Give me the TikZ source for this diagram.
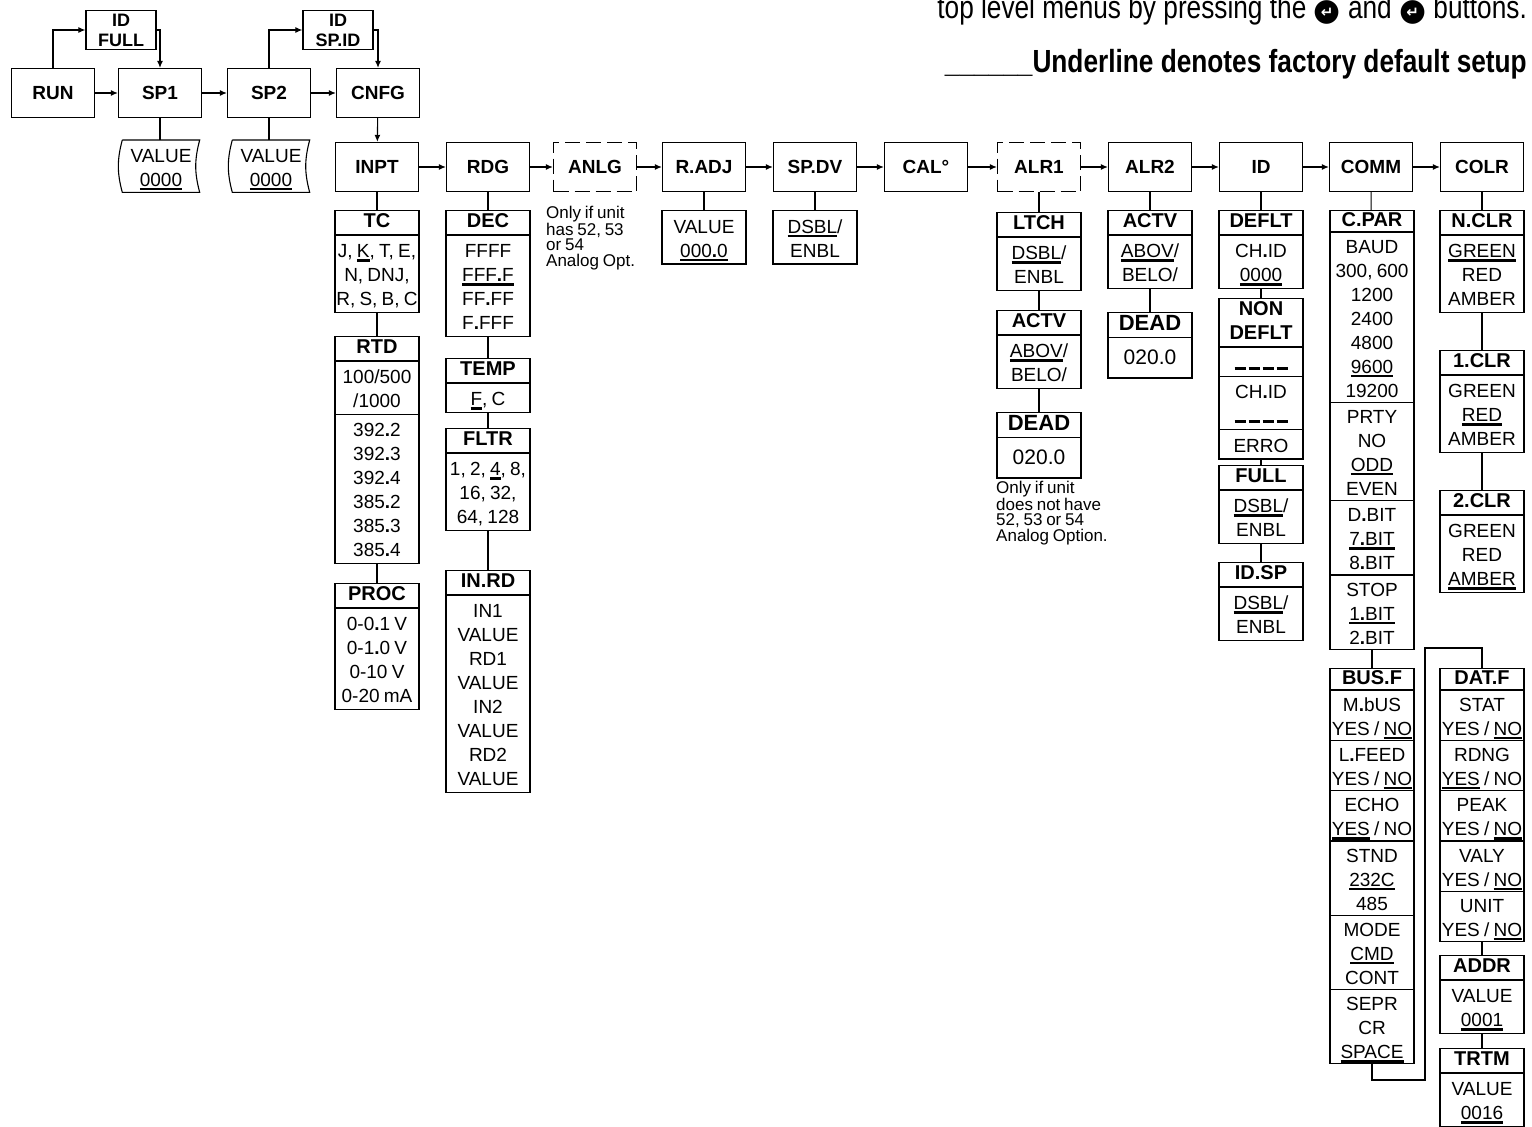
\documentclass[tikz,border=0pt]{standalone}
\usepackage{fontspec}
\setmainfont{Liberation Sans}[WordSpace=0.8]
\newfontfamily\narrowfont{Liberation Sans}[FakeStretch=0.82]
\newfontfamily\symbolfont{DejaVu Sans}
\usetikzlibrary{shapes.multipart,arrows.meta,positioning}
\setlength{\parindent}{0pt}
\setlength{\parskip}{0pt}
\newcommand{\menufont}{\fontsize{19}{21}\selectfont\bfseries}
\newcommand{\pairfont}{\fontsize{18}{20}\selectfont\bfseries}
\newcommand{\headfont}{\fontsize{20}{22}\selectfont\bfseries}
\newcommand{\itemfont}{\fontsize{19}{24}\selectfont}
\newcommand{\notefont}{\fontsize{17}{15.5}\selectfont}
\newcommand{\keyfont}{\fontsize{32}{34}\selectfont\narrowfont}
\newcommand{\rowstrut}{\rule[-4pt]{0pt}{24pt}}
\newcommand{\headstrut}{\rule[-4.5pt]{0pt}{19pt}}
\newcommand{\head}[1]{{\headfont\headstrut#1\headstrut}}
\newcommand{\rows}[1]{\rowstrut#1\rowstrut}
\newcommand{\dflt}[1]{\leavevmode\setbox0=\hbox{#1}\rlap{\rule[-4pt]{\wd0}{2.4pt}}\box0\relax}
\newcommand{\decpt}{{\bfseries.}}
\newcommand{\blankrow}{\rule{11pt}{2.5pt}\hspace{3pt}\rule{11pt}{2.5pt}\hspace{3pt}%
  \rule{11pt}{2.5pt}\hspace{3pt}\rule{11pt}{2.5pt}}
\newcommand{\tallrow}[1]{\raisebox{0pt}[24pt][11pt]{\fontsize{21}{24}\selectfont#1}}
\newcommand{\keyicon}{{\symbolfont\fontsize{31}{31}\selectfont\setbox2=\hbox{●}%
  \rlap{\raisebox{-2pt}{●}}\hbox to\wd2{\hss\raisebox{1pt}{\textcolor{white}{\fontsize{15}{15}\selectfont\bfseries ↵}}\hss}}}
\newcommand{\scrollframe}[1]{%
  \draw[line width=1.1pt] (#1.north west) -- (#1.north east) to[bend right=15]
    (#1.south east) -- (#1.south west) to[bend left=15] (#1.north west);
}
\tikzset{
  menubox/.style={draw, line width=1.3pt, minimum width=83pt, minimum height=49pt,
    inner sep=0pt, font=\menufont},
  optbox/.style={menubox, dash pattern=on 15pt off 6pt},
  pairbox/.style={draw, line width=1.3pt, minimum width=70pt, minimum height=39pt,
    inner sep=0pt, align=center, font=\pairfont},
  listbox/.style={draw, line width=1.3pt, rectangle split, rectangle split parts=#1,
    text width=92pt, inner xsep=-4pt, inner ysep=2pt, align=flush center,
    anchor=north, font=\itemfont},
  densebox/.style={listbox=#1, inner ysep=0.5pt},
  valuebox/.style={text width=85pt, inner xsep=-4pt, inner ysep=2pt, align=flush center,
    anchor=north, font=\itemfont},
  notetext/.style={anchor=north west, align=left, inner sep=0pt, font=\notefont},
  flowarrow/.style={line width=1.1pt, -{Latex[length=7pt,width=6pt]}},
  tieline/.style={line width=1.1pt},
}
\begin{document}
\begin{tikzpicture}[x=1pt,y=-1pt]
  \useasboundingbox (0,0) rectangle (1532,1127);

  % top level menus
  \node[menubox] (run) at (53,93) {RUN};
  \node[menubox] (sp1) at (160,93) {SP1};
  \node[menubox] (sp2) at (269,93) {SP2};
  \node[menubox] (cnfg) at (378,93) {CNFG};
  \node[pairbox] (idfull) at (121,30) {ID\\FULL};
  \node[pairbox] (idspid) at (338,30) {ID\\SP.ID};
  \node[valuebox] (sp1val) at (161,140) {\rows{VALUE\\\dflt{0000}}};
  \node[valuebox] (sp2val) at (271,140) {\rows{VALUE\\\dflt{0000}}};
  \scrollframe{sp1val}
  \scrollframe{sp2val}

  \draw[flowarrow] (run) -- (sp1);
  \draw[flowarrow] (sp1) -- (sp2);
  \draw[flowarrow] (sp2) -- (cnfg);
  \draw[flowarrow] (run.north) |- (idfull.west);
  \draw[flowarrow] (idfull.east) -| (sp1.north);
  \draw[flowarrow] (sp2.north) |- (idspid.west);
  \draw[flowarrow] (idspid.east) -| (cnfg.north);
  \draw[tieline] (sp1.south) -- (sp1.south |- sp1val.north);
  \draw[tieline] (sp2.south) -- (sp2.south |- sp2val.north);

  % configuration menus
  \node[menubox] (inpt) at (377,167) {INPT};
  \node[menubox] (rdg) at (488,167) {RDG};
  \node[optbox] (anlg) at (595,167) {ANLG};
  \node[menubox] (radj) at (704,167) {R.ADJ};
  \node[menubox] (spdv) at (815,167) {SP.DV};
  \node[menubox] (cal) at (926,167) {CAL°};
  \node[optbox] (alr1) at (1039,167) {ALR1};
  \node[menubox] (alr2) at (1150,167) {ALR2};
  \node[menubox] (id) at (1261,167) {ID};
  \node[menubox] (comm) at (1371,167) {COMM};
  \node[menubox] (colr) at (1482,167) {COLR};

  \draw[flowarrow] (cnfg) -- (inpt);
  \foreach \a/\b in {inpt/rdg,rdg/anlg,anlg/radj,radj/spdv,spdv/cal,cal/alr1,
      alr1/alr2,alr2/id,id/comm,comm/colr}
    \draw[flowarrow] (\a) -- (\b);

  % INPT
  \node[listbox=2] (tc) at (377,210) {\head{TC}\nodepart{two}%
    \rows{J, \dflt{K}, T, E,\\N, DNJ,\\R, S, B, C}};
  \node[listbox=3] (rtd) at (377,336) {\head{RTD}\nodepart{two}\rows{100/500\\/1000}%
    \nodepart{three}\rows{392\decpt2\\392\decpt3\\392\decpt4\\385\decpt2\\385\decpt3\\385\decpt4}};
  \node[listbox=2] (proc) at (377,583) {\head{PROC}\nodepart{two}%
    \rows{0-0\decpt1 V\\0-1\decpt0 V\\0-10 V\\0-20 mA}};
  \draw[tieline] (inpt) -- (tc);
  \draw[tieline] (tc) -- (rtd);
  \draw[tieline] (rtd) -- (proc);

  % RDG
  \node[listbox=2] (dec) at (488,210) {\head{DEC}\nodepart{two}%
    \rows{FFFF\\\dflt{FFF\decpt F}\\FF\decpt FF\\F\decpt FFF}};
  \node[listbox=2] (temp) at (488,358) {\head{TEMP}\nodepart{two}\rows{\dflt{F}, C}};
  \node[listbox=2] (fltr) at (488,428) {\head{FLTR}\nodepart{two}%
    \rows{1, 2, \dflt{4}, 8,\\16, 32,\\64, 128}};
  \node[listbox=2] (inrd) at (488,570) {\head{IN.RD}\nodepart{two}%
    \rows{IN1\\VALUE\\RD1\\VALUE\\IN2\\VALUE\\RD2\\VALUE}};
  \draw[tieline] (rdg) -- (dec);
  \draw[tieline] (dec) -- (temp);
  \draw[tieline] (temp) -- (fltr);
  \draw[tieline] (fltr) -- (inrd);

  % ANLG, R.ADJ, SP.DV
  \node[notetext] (anlgnote) at (546,206) {Only if unit\\has 52, 53\\or 54\\Analog Opt.};
  \node[listbox=1] (radjval) at (704,210) {\rows{VALUE\\\dflt{000\decpt0}}};
  \node[listbox=1] (spdvval) at (815,210) {\rows{\dflt{DSBL}/\\ENBL}};
  \draw[tieline] (radj) -- (radjval);
  \draw[tieline] (spdv) -- (spdvval);

  % ALR1
  \node[listbox=2] (ltch) at (1039,212) {\head{LTCH}\nodepart{two}\rows{\dflt{DSBL}/\\ENBL}};
  \node[listbox=2] (actv1) at (1039,310) {\head{ACTV}\nodepart{two}\rows{\dflt{ABOV}/\\BELO/}};
  \node[listbox=2] (dead1) at (1039,412) {\head{\fontsize{22}{22}\selectfont DEAD}%
    \nodepart{two}\tallrow{020.0}};
  \node[notetext] (alr1note) at (996,481)
    {Only if unit\\does not have\\52, 53 or 54\\Analog Option.};
  \draw[tieline] (alr1) -- (ltch);
  \draw[tieline] (ltch) -- (actv1);
  \draw[tieline] (actv1) -- (dead1);

  % ALR2
  \node[listbox=2] (actv2) at (1150,210) {\head{ACTV}\nodepart{two}\rows{\dflt{ABOV}/\\BELO/}};
  \node[listbox=2] (dead2) at (1150,312) {\head{\fontsize{22}{22}\selectfont DEAD}%
    \nodepart{two}\tallrow{020.0}};
  \draw[tieline] (alr2) -- (actv2);
  \draw[tieline] (actv2) -- (dead2);

  % ID
  \node[listbox=2] (deflt) at (1261,210) {\head{DEFLT}\nodepart{two}%
    \rows{CH\decpt ID\\\dflt{0000}}};
  \node[listbox=4] (nondeflt) at (1261,298) {\head{NON\\DEFLT}\nodepart{two}\rows{\blankrow}%
    \nodepart{three}\rows{CH\decpt ID\\\blankrow}\nodepart{four}\rows{ERRO}};
  \node[listbox=2] (full) at (1261,465) {\head{FULL}\nodepart{two}\rows{\dflt{DSBL}/\\ENBL}};
  \node[listbox=2] (idsp) at (1261,562) {\head{ID.SP}\nodepart{two}\rows{\dflt{DSBL}/\\ENBL}};
  \draw[tieline] (id) -- (deflt);
  \draw[tieline] (deflt) -- (nondeflt);
  \draw[tieline] (nondeflt) -- (full);
  \draw[tieline] (full) -- (idsp);

  % COMM
  \node[densebox=5] (cpar) at (1372,210) {\head{C.PAR}\nodepart{two}%
    \rows{BAUD\\300, 600\\1200\\2400\\4800\\\dflt{9600}\\19200}%
    \nodepart{three}\rows{PRTY\\NO\\\dflt{ODD}\\EVEN}%
    \nodepart{four}\rows{D\decpt BIT\\\dflt{7\decpt BIT}\\8\decpt BIT}%
    \nodepart{five}\rows{STOP\\\dflt{1\decpt BIT}\\2\decpt BIT}};
  \node[densebox=7] (busf) at (1372,668) {\head{BUS.F}%
    \nodepart{two}\rows{M\decpt bUS\\YES / \dflt{NO}}%
    \nodepart{three}\rows{L\decpt FEED\\YES / \dflt{NO}}%
    \nodepart{four}\rows{ECHO\\\dflt{YES} / NO}%
    \nodepart{five}\rows{STND\\\dflt{232C}\\485}%
    \nodepart{six}\rows{MODE\\\dflt{CMD}\\CONT}%
    \nodepart{seven}\rows{SEPR\\CR\\\dflt{SPACE}}};
  \node[densebox=6] (datf) at (1482,668) {\head{DAT.F}%
    \nodepart{two}\rows{STAT\\YES / \dflt{NO}}%
    \nodepart{three}\rows{RDNG\\\dflt{YES} / NO}%
    \nodepart{four}\rows{PEAK\\YES / \dflt{NO}}%
    \nodepart{five}\rows{VALY\\YES / \dflt{NO}}%
    \nodepart{six}\rows{UNIT\\YES / \dflt{NO}}};
  \node[listbox=2] (addr) at (1482,955) {\head{ADDR}\nodepart{two}\rows{VALUE\\\dflt{0001}}};
  \node[listbox=2] (trtm) at (1482,1048) {\head{TRTM}\nodepart{two}\rows{VALUE\\\dflt{0016}}};
  \coordinate (loopdown) at (1425,1080);
  \coordinate (loopup) at (1425,648);
  \draw[tieline] (comm) -- (cpar);
  \draw[tieline] (cpar) -- (busf);
  \draw[tieline] (busf.south) |- (loopdown) -- (loopup) -| (datf.north);
  \draw[tieline] (datf) -- (addr);
  \draw[tieline] (addr) -- (trtm);

  % COLR
  \node[listbox=2] (nclr) at (1482,210) {\head{N.CLR}\nodepart{two}\rows{\dflt{GREEN}\\RED\\AMBER}};
  \node[listbox=2] (clr1) at (1482,350) {\head{1.CLR}\nodepart{two}\rows{GREEN\\\dflt{RED}\\AMBER}};
  \node[listbox=2] (clr2) at (1482,490) {\head{2.CLR}\nodepart{two}\rows{GREEN\\RED\\\dflt{AMBER}}};
  \draw[tieline] (colr) -- (nclr);
  \draw[tieline] (nclr) -- (clr1);
  \draw[tieline] (clr1) -- (clr2);

  % key text
  \node[anchor=base east, inner sep=0pt, font=\keyfont] (hint) at (1527,18)
    {top level menus by pressing the \keyicon\ and \keyicon\ buttons.};
  \node[anchor=base east, inner sep=0pt, font=\keyfont\bfseries] (legend) at (1527,72)
    {\_\_\_\_\_\_Underline denotes factory default setup};
\end{tikzpicture}
\end{document}
